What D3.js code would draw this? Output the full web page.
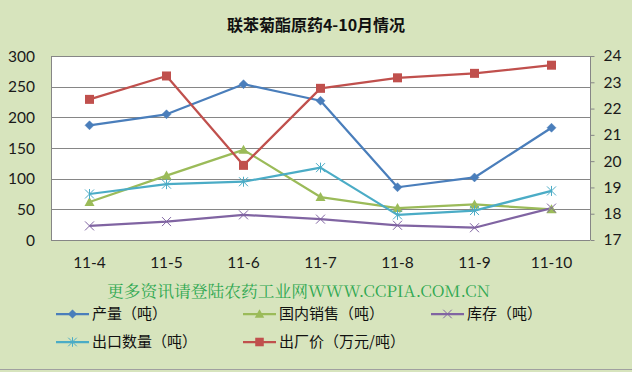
<!DOCTYPE html>
<html><head><meta charset="utf-8">
<script src="https://cdn.jsdelivr.net/npm/d3@7"></script>
<style>html,body{margin:0;padding:0;background:#d7e4bd;}svg{display:block;}</style>
</head><body>
<script>
const categories = ["11-4","11-5","11-6","11-7","11-8","11-9","11-10"];
const production = [187, 205, 254, 227, 86, 102, 183];
const domesticSales = [62, 105, 147, 70, 52, 58, 50];
const inventory = [23, 30, 41, 34, 24, 20, 52];
const exports = [75, 91, 95, 118, 41, 48, 80];
const price = [22.35, 23.24, 19.84, 22.77, 23.17, 23.34, 23.65];
const leftTicks = [0, 50, 100, 150, 200, 250, 300];
const rightTicks = [17, 18, 19, 20, 21, 22, 23, 24];

const W = 632, H = 372;
const svg = d3.select("body").append("svg").attr("width", W).attr("height", H);
svg.append("rect").attr("width", W).attr("height", H).attr("fill", "#d7e4bd");

const L = 51, R = 590, T = 56, B = 240;
const x = d3.scaleBand().domain(categories).range([L, R]).padding(0);
const cx = c => x(c) + x.bandwidth() / 2;
const yL = d3.scaleLinear().domain([0, 300]).range([B, T]);
const yR = d3.scaleLinear().domain([17, 24]).range([B, T]);

svg.append("rect").attr("x", L).attr("y", T).attr("width", R - L).attr("height", B - T).attr("fill", "#ffffff");

const grid = "#868686";
svg.append("g").selectAll("line").data(leftTicks).join("line")
  .attr("x1", L).attr("x2", R).attr("y1", d => Math.round(yL(d)) + 0.5).attr("y2", d => Math.round(yL(d)) + 0.5)
  .attr("stroke", grid).attr("stroke-width", 1);
svg.append("line").attr("x1", L + 0.5).attr("x2", L + 0.5).attr("y1", T).attr("y2", B).attr("stroke", grid);
svg.append("line").attr("x1", R + 0.5).attr("x2", R + 0.5).attr("y1", T).attr("y2", B).attr("stroke", grid);

const font = "Lato, 'Open Sans', sans-serif";
svg.append("g").selectAll("text").data(leftTicks).join("text")
  .attr("x", 35).attr("y", d => yL(d)).attr("dy", "0.36em").attr("text-anchor", "end")
  .attr("font-family", font).attr("font-size", 15.5).attr("fill", "#1a1a1a").text(d => d);
const rAxis = d3.axisRight(yR).tickValues(rightTicks).tickSize(4).tickPadding(9).tickFormat(d => d);
const rg = svg.append("g").attr("transform", `translate(${R + 0.5},0)`).call(rAxis);
rg.select(".domain").remove();
rg.selectAll(".tick line").attr("stroke", grid);
rg.selectAll(".tick text").attr("font-family", font).attr("font-size", 15.5).attr("fill", "#1a1a1a");
svg.append("g").selectAll("text").data(categories).join("text")
  .attr("x", d => cx(d)).attr("y", 262).attr("dy", "0.36em").attr("text-anchor", "middle")
  .attr("font-family", font).attr("font-size", 15.5).attr("fill", "#1a1a1a").text(d => d);

svg.append("text").attr("x", 316).attr("y", 25).attr("dy", "0.36em").attr("text-anchor", "middle")
  .attr("font-family", "'Noto Sans CJK SC', sans-serif").attr("font-weight", 700).attr("font-size", 16)
  .attr("fill", "#111").text("联苯菊酯原药4-10月情况");

const series = [
  {name: "产量（吨）", data: production, color: "#4a7ebb", marker: "diamond", scale: yL},
  {name: "国内销售（吨）", data: domesticSales, color: "#9bbb59", marker: "triangle", scale: yL},
  {name: "库存（吨）", data: inventory, color: "#8064a2", marker: "x", scale: yL},
  {name: "出口数量（吨）", data: exports, color: "#4bacc6", marker: "star", scale: yL},
  {name: "出厂价（万元/吨）", data: price, color: "#c0504d", marker: "square", scale: yR}
];

function drawMarker(g, type, color, px, py, s) {
  s = s || 1;
  if (type === "diamond") {
    const r = 4.5 * s;
    g.append("path").attr("d", `M${px},${py - r}L${px + r},${py}L${px},${py + r}L${px - r},${py}Z`).attr("fill", color).attr("stroke", color).attr("stroke-width", 0.5);
  } else if (type === "square") {
    const r = 4.5 * s;
    g.append("rect").attr("x", px - r).attr("y", py - r).attr("width", 2 * r).attr("height", 2 * r).attr("fill", color);
  } else if (type === "triangle") {
    const r = 5 * s;
    g.append("path").attr("d", `M${px},${py - r}L${px + r},${py + r * 0.8}L${px - r},${py + r * 0.8}Z`).attr("fill", color);
  } else if (type === "x") {
    const r = 4.5 * s;
    g.append("path").attr("d", `M${px - r},${py - r}L${px + r},${py + r}M${px - r},${py + r}L${px + r},${py - r}`).attr("stroke", color).attr("stroke-width", 1);
  } else if (type === "star") {
    const r = 4.5 * s;
    g.append("path").attr("d", `M${px - r},${py - r}L${px + r},${py + r}M${px - r},${py + r}L${px + r},${py - r}M${px},${py - r - 0.5}L${px},${py + r + 0.5}`).attr("stroke", color).attr("stroke-width", 1);
  }
}

const line = d3.line();
series.forEach(s => {
  const pts = categories.map((c, i) => [cx(c), s.scale(s.data[i])]);
  svg.append("path").attr("d", line(pts)).attr("fill", "none").attr("stroke", s.color).attr("stroke-width", 2.25).attr("stroke-linejoin", "round");
});
series.forEach(s => {
  const g = svg.append("g");
  categories.forEach((c, i) => drawMarker(g, s.marker, s.color, cx(c), s.scale(s.data[i])));
});

svg.append("text").attr("x", 107).attr("y", 291).attr("dy", "0.36em")
  .attr("font-family", "'Noto Serif CJK SC', 'Liberation Serif', 'Noto Sans CJK SC', serif").attr("font-size", 16)
  .attr("fill", "#2fa851").attr("textLength", 383).attr("lengthAdjust", "spacingAndGlyphs")
  .text("更多资讯请登陆农药工业网WWW.CCPIA.COM.CN");

const legendPos = [[56, 314], [243, 314], [431, 314], [56, 342], [243, 342]];
series.forEach((s, i) => {
  const [lx, ly] = legendPos[i];
  const g = svg.append("g");
  g.append("line").attr("x1", lx).attr("x2", lx + 33).attr("y1", ly).attr("y2", ly).attr("stroke", s.color).attr("stroke-width", 2.25);
  drawMarker(g, s.marker, s.color, lx + 16.5, ly, 0.95);
  g.append("text").attr("x", lx + 36).attr("y", ly).attr("dy", "0.36em")
    .attr("font-family", "'Noto Sans CJK SC', sans-serif").attr("font-size", 15).attr("fill", "#111").text(s.name);
});

svg.append("line").attr("x1", 0).attr("x2", W).attr("y1", 369.5).attr("y2", 369.5).attr("stroke", "#a0a0a0");
</script>
</body></html>
